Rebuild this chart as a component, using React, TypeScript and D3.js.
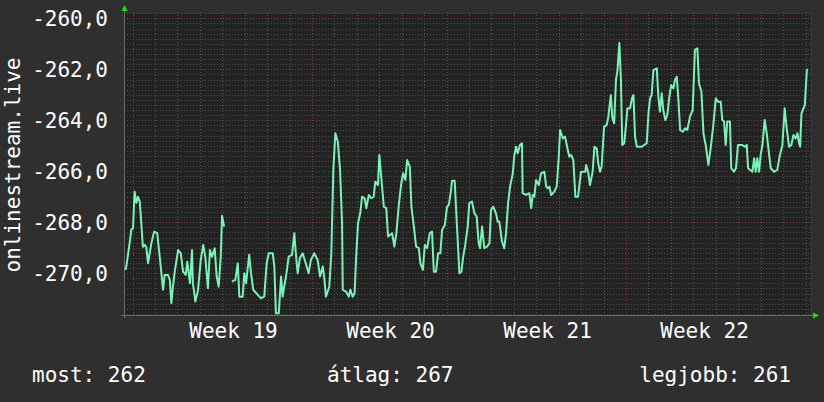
import React from 'react';
import * as d3 from 'd3';

// days are measured from the start of week 19
const samples: [number, number | null][] = [
  [-1.32, -269.87], [-1.28, -269.74], [-1.13, -268.82], [-1.06, -268.30], [-0.98, -268.24],
  [-0.91, -266.80], [-0.83, -267.24], [-0.76, -267.00], [-0.68, -267.19], [-0.61, -268.04],
  [-0.54, -268.96], [-0.46, -268.89], [-0.39, -268.97], [-0.31, -269.61], [-0.24, -269.22],
  [-0.16, -268.82], [-0.04, -268.37], [0.10, -268.43], [0.21, -269.35], [0.36, -270.65],
  [0.43, -270.07], [0.58, -270.07], [0.66, -270.26], [0.73, -271.18], [0.80, -270.53],
  [0.88, -269.94], [1.03, -269.09], [1.15, -269.22], [1.25, -269.94], [1.37, -270.07],
  [1.44, -269.55], [1.52, -270.13], [1.56, -270.39], [1.65, -269.09], [1.69, -270.39],
  [1.80, -271.11], [1.92, -270.65], [2.04, -269.48], [2.15, -268.89], [2.24, -269.35],
  [2.36, -270.59], [2.45, -269.09], [2.54, -269.35], [2.66, -269.02], [2.75, -270.13],
  [2.84, -270.53], [2.93, -269.35], [2.99, -267.75], [3.08, -268.17],
  [3.25, null],
  [3.43, -270.33], [3.58, -270.26], [3.69, -269.61], [3.76, -270.92], [3.91, -270.92],
  [3.98, -270.00], [4.06, -270.39], [4.20, -269.28], [4.28, -270.00], [4.38, -270.65],
  [4.58, -270.85], [4.73, -270.98], [4.87, -270.92], [4.98, -269.61], [5.07, -269.22],
  [5.25, -269.22], [5.32, -269.74], [5.39, -271.57], [5.52, -271.57], [5.62, -270.13],
  [5.69, -270.92], [5.76, -270.53], [5.84, -270.13], [5.96, -269.35], [6.11, -269.28],
  [6.21, -268.43], [6.29, -269.35], [6.36, -270.00], [6.46, -269.41], [6.58, -269.22],
  [6.70, -269.55], [6.85, -270.00], [6.95, -269.48], [7.10, -269.22], [7.25, -269.48],
  [7.36, -270.13], [7.48, -269.74], [7.55, -270.20], [7.62, -270.92], [7.77, -270.53],
  [7.86, -269.22], [7.95, -265.95], [8.04, -264.51], [8.15, -264.84], [8.25, -265.95],
  [8.34, -268.04], [8.37, -270.65], [8.52, -270.72], [8.64, -270.92], [8.71, -270.65],
  [8.81, -270.92], [8.90, -270.78], [8.96, -269.48], [9.05, -268.04], [9.15, -267.65],
  [9.23, -267.00], [9.35, -267.06], [9.42, -267.45], [9.53, -266.93], [9.64, -267.06],
  [9.75, -267.00], [9.82, -266.41], [9.94, -266.54], [10.00, -265.36], [10.09, -266.27],
  [10.20, -267.39], [10.31, -267.45], [10.39, -268.56], [10.57, -268.43], [10.67, -268.96],
  [10.76, -268.43], [10.87, -267.32], [10.98, -266.47], [11.06, -266.08], [11.16, -266.34],
  [11.24, -265.56], [11.36, -265.82], [11.43, -267.39], [11.54, -268.17], [11.64, -268.96],
  [11.76, -269.02], [11.83, -269.61], [11.94, -269.87], [12.03, -268.89], [12.13, -269.02],
  [12.25, -268.43], [12.35, -268.37], [12.43, -269.94], [12.53, -269.94], [12.62, -269.22],
  [12.72, -269.22], [12.80, -268.30], [12.92, -268.11], [13.02, -267.39], [13.10, -267.32],
  [13.19, -266.80], [13.24, -266.37], [13.36, -266.37], [13.47, -268.30], [13.57, -270.00],
  [13.66, -269.94], [13.73, -269.41], [13.83, -268.89], [13.94, -268.17], [14.01, -267.25],
  [14.13, -267.19], [14.24, -267.65], [14.34, -267.78], [14.43, -268.82], [14.49, -269.02],
  [14.58, -268.17], [14.68, -269.02], [14.80, -268.96], [14.91, -268.82], [14.98, -267.52],
  [15.08, -267.39], [15.20, -267.65], [15.28, -267.98], [15.35, -267.98], [15.47, -268.76],
  [15.57, -269.02], [15.65, -268.43], [15.74, -267.25], [15.83, -266.60], [15.95, -266.08],
  [16.02, -265.36], [16.10, -265.04], [16.17, -265.29], [16.27, -264.97], [16.36, -264.90],
  [16.39, -266.86], [16.54, -266.93], [16.69, -266.86], [16.77, -267.45], [16.84, -266.93],
  [16.91, -267.00], [16.99, -266.34], [17.11, -266.54], [17.21, -266.08], [17.36, -266.02],
  [17.44, -266.60], [17.51, -266.67], [17.58, -266.60], [17.66, -266.93], [17.80, -266.80],
  [17.91, -266.60], [18.00, -265.43], [18.06, -264.38], [18.18, -264.71], [18.28, -264.64],
  [18.40, -265.16], [18.47, -265.43], [18.55, -265.36], [18.65, -265.56], [18.74, -267.00],
  [18.86, -267.00], [18.99, -266.02], [19.18, -266.02], [19.22, -265.75], [19.32, -266.08],
  [19.39, -266.54], [19.51, -266.02], [19.59, -265.04], [19.69, -265.10], [19.76, -265.69],
  [19.84, -266.02], [19.91, -265.82], [20.02, -264.25], [20.14, -264.18], [20.21, -263.86],
  [20.32, -263.01], [20.39, -263.92], [20.47, -264.12], [20.55, -262.42], [20.62, -262.03],
  [20.70, -260.96], [20.77, -262.35], [20.83, -264.97], [20.92, -264.90], [20.99, -264.25],
  [21.06, -263.53], [21.18, -263.53], [21.26, -263.14], [21.33, -263.01], [21.40, -264.64],
  [21.48, -265.04], [21.70, -265.04], [21.92, -264.90], [22.00, -263.73], [22.07, -263.14],
  [22.14, -263.01], [22.22, -262.03], [22.37, -261.96], [22.44, -263.07], [22.51, -263.66],
  [22.59, -262.94], [22.66, -263.60], [22.75, -263.99], [22.84, -263.79], [22.93, -263.07],
  [23.01, -262.62], [23.11, -262.75], [23.18, -262.42], [23.26, -262.29], [23.33, -263.14],
  [23.41, -264.38], [23.53, -264.45], [23.63, -264.31], [23.73, -264.38], [23.85, -263.86],
  [23.97, -263.60], [24.07, -261.24], [24.18, -261.18], [24.25, -262.55], [24.36, -262.88],
  [24.45, -264.51], [24.55, -264.97], [24.67, -265.75], [24.78, -265.04], [24.89, -264.18],
  [25.00, -263.14], [25.10, -263.27], [25.22, -263.27], [25.29, -263.99], [25.37, -264.05],
  [25.44, -264.97], [25.51, -264.05], [25.63, -264.05], [25.69, -265.88], [25.81, -266.02],
  [25.90, -265.88], [25.99, -264.97], [26.18, -264.97], [26.29, -265.04], [26.38, -264.97],
  [26.44, -265.88], [26.63, -266.02], [26.71, -265.49], [26.78, -266.02], [26.85, -265.49],
  [26.93, -266.02], [27.00, -265.36], [27.08, -264.97], [27.18, -263.99], [27.27, -264.51],
  [27.37, -265.29], [27.45, -265.88], [27.60, -266.02], [27.74, -265.95], [27.86, -265.36],
  [27.97, -264.97], [28.07, -263.53], [28.16, -264.31], [28.27, -265.04], [28.37, -264.97],
  [28.46, -264.58], [28.56, -264.71], [28.64, -264.51], [28.71, -264.90], [28.76, -265.04],
  [28.82, -263.73], [28.91, -263.53], [28.97, -263.40], [29.06, -262.03], [29.10, -262.00],
];

const weekStarts = [0, 7, 14, 21, 28];
const weekLabels = ['Week 19', 'Week 20', 'Week 21', 'Week 22'];
const yMajorTicks = [-260, -262, -264, -266, -268, -270];
const axisTitle = 'onlinestream.live';
const legendItems = ['most: 262', 'átlag: 267', 'legjobb: 261'];

const W = 824;
const H = 402;
const plot = { left: 124, right: 810, top: 14, bottom: 315 };
const FONT = '"DejaVu Sans Mono", monospace';

export default function App() {
  const x = d3.scaleLinear().domain([-1.382, 29.2]).range([plot.left, plot.right]);
  const y = d3.scaleLinear().domain([-271.64, -259.83]).range([plot.bottom, plot.top]);

  const dayTicks = d3.range(-1, 30).filter(d => !weekStarts.includes(d));
  const yMinor = d3.range(-271.6, -259.8, 0.2)
    .map(v => Math.round(v * 10) / 10)
    .filter(v => Math.round(v * 10) % 20 !== 0);

  const line = d3.line<[number, number | null]>()
    .defined(d => d[1] !== null)
    .x(d => x(d[0]))
    .y(d => y(d[1] as number));

  return (
    <svg width={W} height={H} style={{ position: 'absolute', left: 0, top: 0 }}>
      <rect width={W} height={H} fill="#2f2f2f" />
      <rect x={plot.left} y={plot.top} width={plot.right - plot.left} height={plot.bottom - plot.top} fill="#222222" />

      {/* minor grid */}
      {yMinor.map(v => (
        <line key={'ym' + v} x1={plot.left} x2={plot.right + 2} y1={Math.round(y(v)) + 0.5} y2={Math.round(y(v)) + 0.5}
          stroke="#4c4c4c" strokeDasharray="1,2" />
      ))}
      {dayTicks.map(d => (
        <line key={'xm' + d} x1={Math.round(x(d)) + 0.5} x2={Math.round(x(d)) + 0.5} y1={plot.top - 2} y2={plot.bottom}
          stroke="#555555" strokeDasharray="1,2" />
      ))}
      {/* major grid */}
      {yMajorTicks.map(v => (
        <line key={'yM' + v} x1={plot.left} x2={plot.right + 2} y1={Math.round(y(v)) + 0.5} y2={Math.round(y(v)) + 0.5}
          stroke="#7a3b3b" strokeDasharray="1,2" />
      ))}
      {weekStarts.map(d => (
        <line key={'xM' + d} x1={Math.round(x(d)) + 0.5} x2={Math.round(x(d)) + 0.5} y1={plot.top - 2} y2={plot.bottom}
          stroke="#7a3b3b" strokeDasharray="1,2" />
      ))}

      {/* axes */}
      <line x1={plot.left - 3} x2={plot.right + 4} y1={plot.bottom + 0.5} y2={plot.bottom + 0.5} stroke="#6a6a6a" />
      <line x1={plot.left + 0.5} x2={plot.left + 0.5} y1={plot.top - 3} y2={plot.bottom + 3} stroke="#6a6a6a" />
      <path d={`M${plot.left - 2.5},${plot.top - 3}L${plot.left + 3.5},${plot.top - 3}L${plot.left + 0.5},${plot.top - 9}Z`} fill="#1fd81f" />
      <path d={`M${plot.right + 3},${plot.bottom - 2.5}L${plot.right + 3},${plot.bottom + 3.5}L${plot.right + 9},${plot.bottom + 0.5}Z`} fill="#1fd81f" />

      {/* data */}
      <path d={line(samples) ?? ''} fill="none" stroke="#7bf2b6" strokeWidth={2} strokeLinejoin="round" />

      {/* y labels */}
      {yMajorTicks.map(v => (
        <text key={'yl' + v} x={108} y={y(v)} dy="0.36em" textAnchor="end" fill="#ffffff"
          fontFamily={FONT} fontSize={21}>
          {v.toFixed(1).replace('.', ',')}
        </text>
      ))}
      {/* week labels */}
      {weekLabels.map((t, i) => (
        <text key={t} x={x(weekStarts[i] + 3.5)} y={338} textAnchor="middle" fill="#ffffff"
          fontFamily={FONT} fontSize={21}>
          {t}
        </text>
      ))}
      <text transform={`translate(20,165) rotate(-90)`} textAnchor="middle" fill="#ffffff"
        fontFamily={FONT} fontSize={21}>
        {axisTitle}
      </text>

      {/* legend */}
      <text x={32} y={382} fill="#ffffff" fontFamily={FONT} fontSize={21}>{legendItems[0]}</text>
      <text x={327} y={382} fill="#ffffff" fontFamily={FONT} fontSize={21}>{legendItems[1]}</text>
      <text x={791} y={382} textAnchor="end" fill="#ffffff" fontFamily={FONT} fontSize={21}>{legendItems[2]}</text>
    </svg>
  );
}
